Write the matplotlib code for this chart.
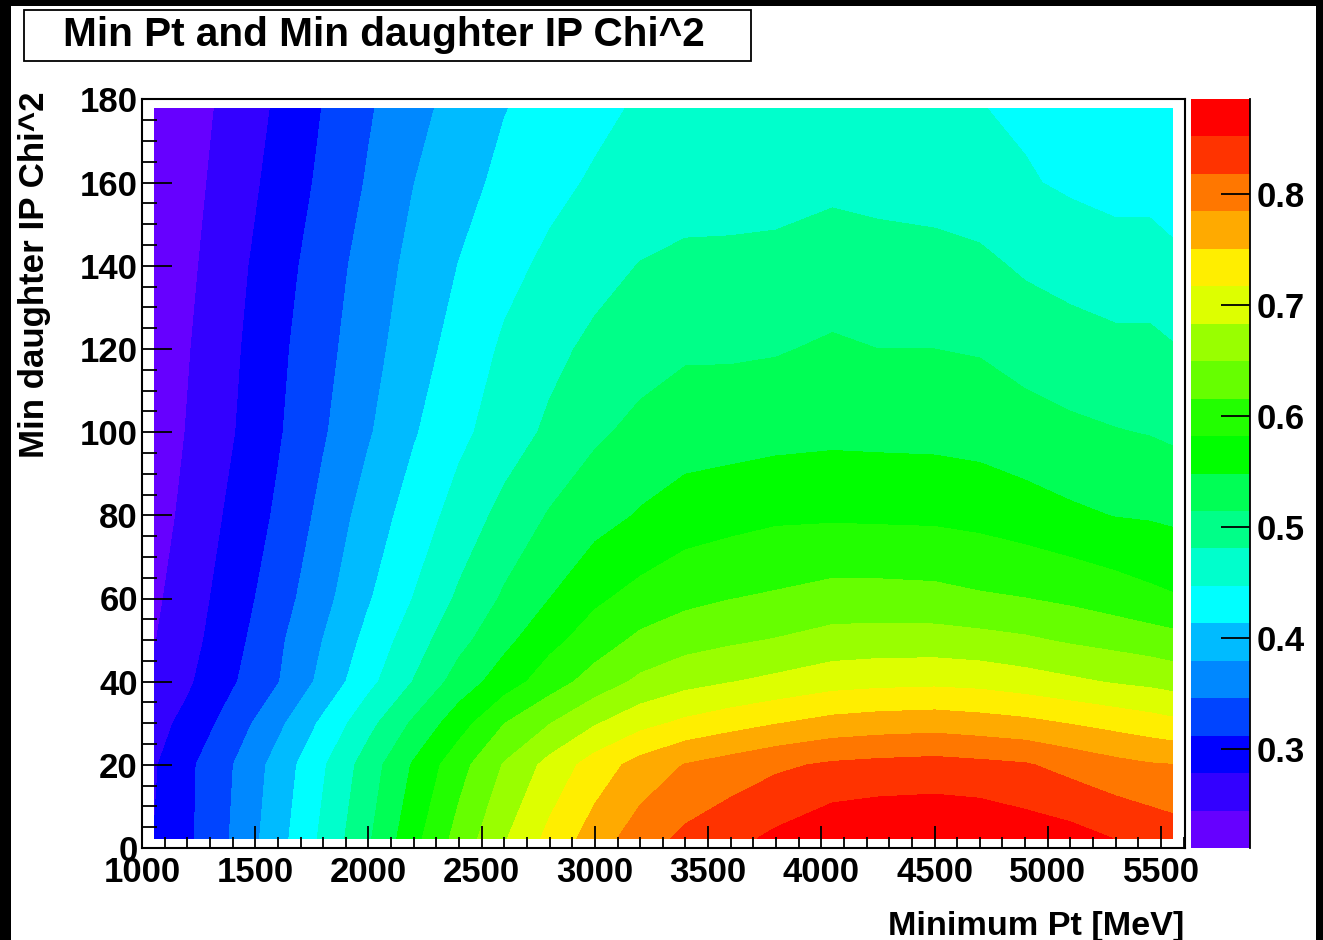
import matplotlib
matplotlib.use("Agg")
import matplotlib.pyplot as plt
import numpy as np
from matplotlib.colors import ListedColormap, BoundaryNorm
from matplotlib.patches import Rectangle
from matplotlib.ticker import MultipleLocator, FixedLocator

plt.rcParams['font.family'] = ['Liberation Sans', 'DejaVu Sans']
plt.rcParams['font.weight'] = 'bold'

W, H = 1323, 940

min_pt = [1055, 1200, 1400, 1600, 1800, 2000, 2200, 2400, 2600, 2800, 3000, 3200,
          3400, 3600, 3800, 4050, 4250, 4500, 4700, 4900, 5100, 5300, 5450, 5550]
min_ip = [2.25, 20, 30, 40, 50, 60, 80, 100, 120, 140, 160, 177.75]

row_002 = [.279,.305,.349,.400,.454,.510,.571,.628,.680,.726,.767,.802,.826,.842,.859,.879,.884,.885,.883,.872,.865,.851,.842,.835]
row_020 = [.275,.304,.345,.392,.443,.497,.552,.603,.652,.694,.732,.763,.786,.799,.812,.823,.827,.830,.826,.821,.807,.794,.787,.785]
row_030 = [.267,.287,.327,.371,.420,.470,.520,.567,.615,.648,.680,.706,.724,.737,.749,.762,.767,.770,.765,.759,.749,.739,.731,.725]
row_040 = [.255,.273,.308,.344,.389,.437,.482,.529,.565,.599,.630,.656,.672,.682,.691,.703,.707,.709,.706,.698,.689,.680,.675,.670]
row_050 = [.243,.266,.300,.339,.380,.423,.465,.504,.539,.572,.598,.623,.636,.644,.651,.662,.664,.664,.660,.654,.645,.638,.632,.627]
row_060 = [.238,.262,.294,.330,.369,.410,.448,.486,.519,.548,.576,.593,.607,.615,.620,.628,.628,.626,.620,.616,.609,.599,.590,.585]
row_080 = [.229,.253,.285,.317,.355,.394,.428,.460,.491,.517,.535,.551,.564,.570,.576,.577,.576,.575,.571,.563,.554,.547,.545,.542]
row_100 = [.223,.246,.276,.308,.342,.376,.410,.439,.463,.487,.509,.523,.532,.534,.537,.540,.539,.538,.535,.528,.521,.516,.513,.509]
row_120 = [.220,.242,.272,.304,.335,.367,.398,.426,.452,.471,.489,.501,.510,.510,.512,.519,.5145,.5145,.512,.502,.495,.489,.489,.483]
row_140 = [.213,.237,.267,.298,.328,.360,.389,.414,.437,.454,.468,.482,.489,.489,.491,.496,.493,.492,.488,.476,.468,.462,.462,.456]
row_160 = [.2115,.232,.261,.289,.319,.349,.379,.402,.421,.438,.451,.458,.464,.466,.467,.474,.471,.467,.461,.450,.442,.436,.436,.429]
row_178 = [.2115,.229,.255,.283,.313,.342,.369,.392,.412,.425,.439,.451,.452,.453,.454,.455,.454,.450,.448,.442,.437,.430,.427,.425]

levels = [.2108,.2445,.2783,.3120,.3458,.3795,.4132,.4470,.4807,.5145,.5482,
          .5819,.6157,.6494,.6832,.7169,.7506,.7844,.8181,.8519,.8856]
band_colors = ['#6600ff','#3300ff','#0000ff','#0044ff','#0088ff','#00bbff','#00ffff',
               '#00ffcc','#00ff88','#00ff55','#00ff00','#22ff00','#66ff00','#99ff00',
               '#ddff00','#ffee00','#ffaa00','#ff7700','#ff3300','#ff0000']

title = "Min Pt and Min daughter IP Chi^2"
xlabel = "Minimum Pt [MeV]"
ylabel = "Min daughter IP Chi^2"
cbar_ticks = [0.3, 0.4, 0.5, 0.6, 0.7, 0.8]

def box(l, t, r, b):
    return [l / W, 1 - b / H, (r - l) / W, (b - t) / H]

fig = plt.figure(figsize=(W / 100, H / 100), dpi=100, facecolor='white')

# black window frame
for (l, t, r, b) in [(0, 0, 11, H), (0, 0, W, 6), (1316, 0, W, H)]:
    fig.add_artist(Rectangle((l / W, 1 - b / H), (r - l) / W, (b - t) / H,
                             transform=fig.transFigure, fc='black', ec='none'))

ax = fig.add_axes(box(142, 99.5, 1185, 848))
Z = np.array([row_002, row_020, row_030, row_040, row_050, row_060,
              row_080, row_100, row_120, row_140, row_160, row_178])
cmap = ListedColormap(band_colors)
norm = BoundaryNorm(levels, cmap.N)
cf = ax.contourf(min_pt, min_ip, Z, levels=levels, cmap=cmap, norm=norm, zorder=1)
cf.set_edgecolor('face')
cf.set_linewidth(0.1)

ax.set_xlim(1000, 5606)
ax.set_ylim(0, 180)
ax.xaxis.set_major_locator(MultipleLocator(500))
ax.xaxis.set_minor_locator(MultipleLocator(100))
ax.yaxis.set_major_locator(MultipleLocator(20))
ax.yaxis.set_minor_locator(MultipleLocator(5))
ax.tick_params(axis='x', which='major', direction='in', length=16, width=1.3, labelsize=25, pad=6, zorder=5)
ax.tick_params(axis='x', which='minor', direction='in', length=8, width=1.3, zorder=5)
ax.tick_params(axis='y', which='major', direction='in', length=21.6, width=1.3, labelsize=25, pad=3, zorder=5)
ax.tick_params(axis='y', which='minor', direction='in', length=11, width=1.3, zorder=5)
ax.set_axisbelow(False)
for s in ax.spines.values():
    s.set_linewidth(1.5)
ax.spines['top'].set_linestyle((0, (1.5, 1)))

fig.text(1184 / W, 1 - 927 / H, xlabel, ha='right', va='center', fontsize=24.7)
fig.text(35 / W, 1 - 275 / H, ylabel, ha='center', va='center', rotation=90, fontsize=25.1)

# title box
fig.add_artist(Rectangle((24 / W, 1 - 61 / H), 727 / W, 51 / H, transform=fig.transFigure,
                         fc='white', ec='black', lw=1.3))
fig.text(63 / W, 1 - 35 / H, title, ha='left', va='center', fontsize=29.2)

cax = fig.add_axes(box(1191, 99, 1250, 848))
cb = fig.colorbar(cf, cax=cax, ticks=FixedLocator(cbar_ticks), spacing='proportional', drawedges=False)
cb.outline.set_visible(False)
cax.set_yticklabels([f"{t:.1f}" for t in cbar_ticks])
cax.tick_params(axis='y', which='major', direction='in', length=21, width=1.3, labelsize=25, pad=5)
cax.minorticks_off()
cax.spines['right'].set_visible(True)
cax.spines['right'].set_linewidth(1.3)

fig.savefig('out.png', dpi=100, facecolor='white')
